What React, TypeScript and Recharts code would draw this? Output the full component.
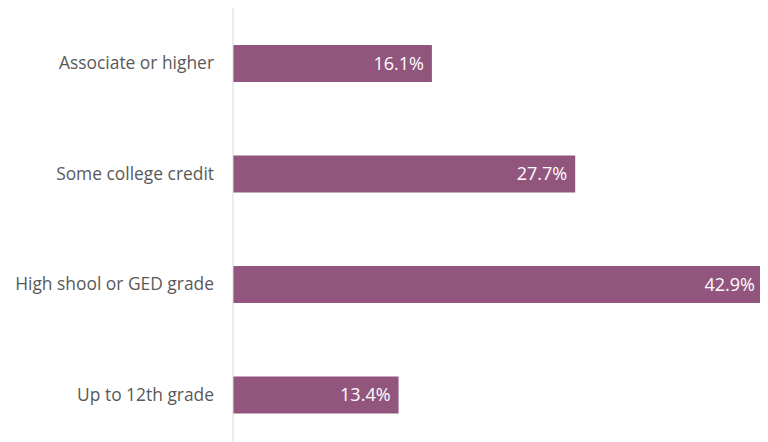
import { BarChart, Bar, XAxis, YAxis, LabelList } from "recharts";

const categories = [
  "Associate or higher",
  "Some college credit",
  "High shool or GED grade",
  "Up to 12th grade",
];
const shares = [16.1, 27.7, 42.9, 13.4];

const data = categories.map((name, i) => ({ name, value: shares[i] }));

export default function App() {
  return (
    <BarChart
      width={760}
      height={442}
      data={data}
      layout="vertical"
      margin={{ top: 0, right: 5, bottom: 0, left: 0 }}
      barCategoryGap={37}
    >
      <XAxis type="number" domain={[0, 42.9]} hide />
      <YAxis
        type="category"
        dataKey="name"
        width={225}
        axisLine={{ stroke: "#d9d9d9" }}
        tickLine={false}
        tickSize={0}
        tickMargin={19}
        tick={{ fill: "#595959", fontSize: 17.4, fontFamily: "Open Sans" }}
      />
      <Bar dataKey="value" fill="#91557e" isAnimationActive={false}>
        <LabelList
          dataKey="value"
          position="insideRight"
          offset={8}
          formatter={(v: number) => `${v}%`}
          fill="#ffffff"
          style={{ fontSize: 18, fontFamily: "Open Sans" }}
        />
      </Bar>
    </BarChart>
  );
}
